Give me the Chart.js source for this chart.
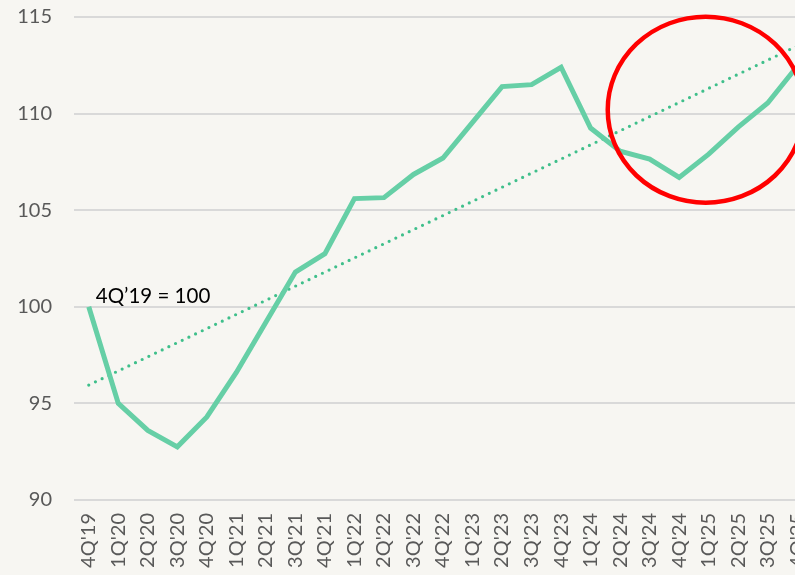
<!DOCTYPE html>
<html>
<head>
<meta charset="utf-8">
<script src="https://cdn.jsdelivr.net/npm/chart.js@4"></script>
<style>
  html, body { margin: 0; padding: 0; background: #f7f6f2; overflow: hidden; }
  canvas { display: block; }
</style>
</head>
<body>
<canvas id="chart" width="812" height="575"></canvas>
<script>
const quarters = ["4Q'19", "1Q'20", "2Q'20", "3Q'20", "4Q'20", "1Q'21", "2Q'21", "3Q'21", "4Q'21",
  "1Q'22", "2Q'22", "3Q'22", "4Q'22", "1Q'23", "2Q'23", "3Q'23", "4Q'23",
  "1Q'24", "2Q'24", "3Q'24", "4Q'24", "1Q'25", "2Q'25", "3Q'25", "4Q'25"];
const indexValues = [100, 95.0, 93.6, 92.75, 94.3, 96.6, 99.2, 101.8, 102.75,
  105.6, 105.65, 106.85, 107.7, 109.55, 111.4, 111.5, 112.4,
  109.25, 108.05, 107.65, 106.7, 107.9, 109.3, 110.55, 112.45];
// trend line read at its two ends
const trendStart = 95.95;
const trendEnd = 113.5;
const yTicks = [90, 95, 100, 105, 110, 115];
const baseLabel = "4Q\u201919 = 100";

const trendValues = quarters.map((q, i) => i === 0 ? trendStart : (i === quarters.length - 1 ? trendEnd : null));

// red highlight ring + base label
const overlay = {
  id: "overlay",
  afterDatasetsDraw(chart) {
    const { ctx, scales: { x, y } } = chart;
    ctx.save();
    ctx.font = "20.5px Lato";
    ctx.fillStyle = "#000";
    ctx.textBaseline = "alphabetic";
    ctx.fillText(baseLabel, x.getPixelForValue(0) + 7, y.getPixelForValue(100) - 4);

    const cx = x.getPixelForValue(20.9);
    const cy = y.getPixelForValue(110.2);
    ctx.strokeStyle = "#ff0000";
    ctx.lineWidth = 4.5;
    ctx.beginPath();
    ctx.ellipse(cx, cy, 98, 93, 0, 0, Math.PI * 2);
    ctx.stroke();
    ctx.restore();
  }
};

new Chart(document.getElementById("chart"), {
  type: "line",
  data: {
    labels: quarters,
    datasets: [
      {
        data: indexValues,
        borderColor: "#66cfa6",
        borderWidth: 5,
        pointRadius: 0,
        tension: 0,
      },
      {
        data: trendValues,
        borderColor: "#3fbf8b",
        borderWidth: 3.2,
        borderDash: [0, 7.4],
        borderCapStyle: "round",
        pointRadius: 0,
        spanGaps: true,
      },
    ],
  },
  options: {
    responsive: false,
    animation: false,
    layout: { padding: { top: 17, right: 0, left: 0, bottom: 0 } },
    plugins: {
      legend: { display: false },
      tooltip: { enabled: false },
    },
    scales: {
      x: {
        offset: true,
        grid: { display: false, drawTicks: false },
        border: { display: false },
        ticks: {
          minRotation: 90,
          maxRotation: 90,
          autoSkip: false,
          padding: 13,
          color: "#595959",
          font: { family: "Lato", size: 20 },
        },
        afterFit(scale) {
          scale.height = 75;
          scale.paddingLeft = 0;
          scale.paddingRight = 0;
        },
      },
      y: {
        min: 90,
        max: 115,
        afterBuildTicks(scale) { scale.ticks = yTicks.map(v => ({ value: v })); },
        grid: { color: "#d9d9d9", lineWidth: 2, drawTicks: false },
        border: { display: false },
        ticks: {
          padding: 22,
          color: "#595959",
          font: { family: "Lato", size: 20 },
        },
        afterFit(scale) {
          scale.width = 74;
          scale.paddingTop = 0;
          scale.paddingBottom = 0;
        },
      },
    },
  },
  plugins: [overlay],
});
</script>
</body>
</html>
